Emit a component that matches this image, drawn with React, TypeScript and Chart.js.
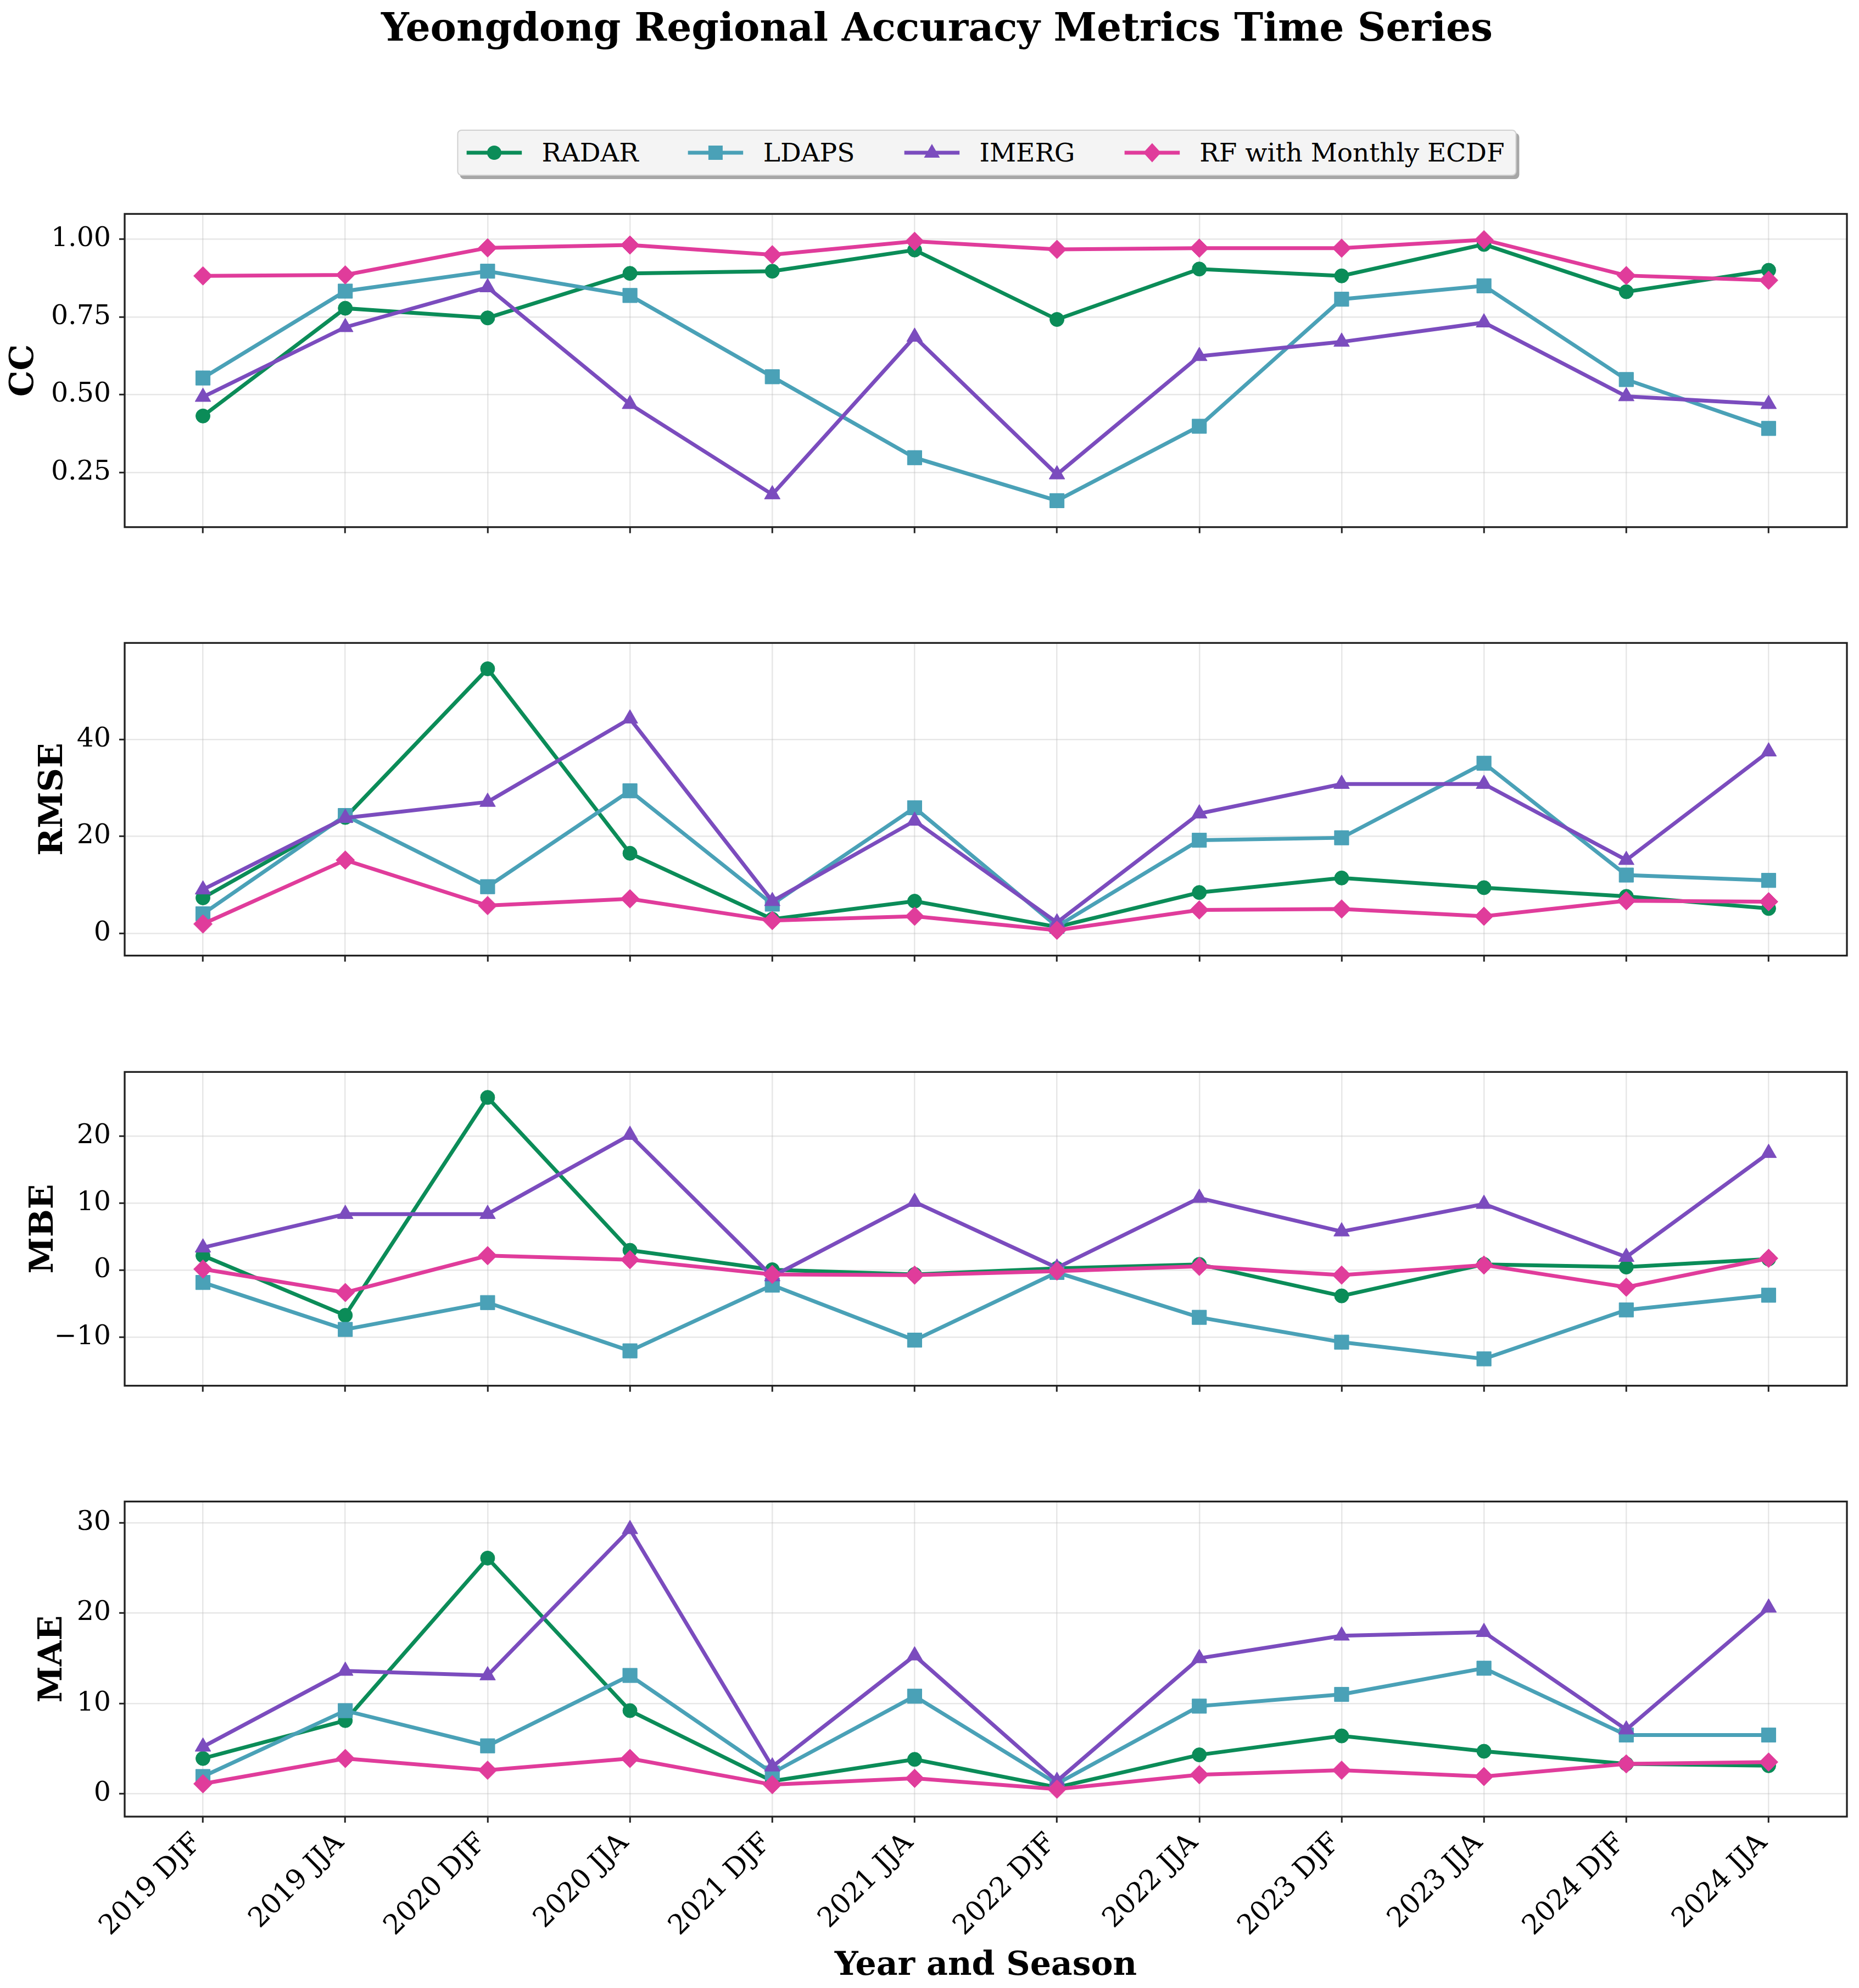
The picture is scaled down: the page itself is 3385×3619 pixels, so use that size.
import React, { useEffect, useRef } from 'react';
import { Chart, registerables } from 'chart.js';

Chart.register(...registerables);

// ---------- data ----------
const seasons = ['2019 DJF', '2019 JJA', '2020 DJF', '2020 JJA', '2021 DJF', '2021 JJA', '2022 DJF', '2022 JJA', '2023 DJF', '2023 JJA', '2024 DJF', '2024 JJA'];
const seriesNames = ['RADAR', 'LDAPS', 'IMERG', 'RF with Monthly ECDF'];

const radarCC = [0.432, 0.778, 0.747, 0.890, 0.897, 0.965, 0.742, 0.904, 0.882, 0.983, 0.831, 0.900];
const ldapsCC = [0.554, 0.833, 0.897, 0.819, 0.558, 0.298, 0.160, 0.399, 0.807, 0.850, 0.549, 0.392];
const imergCC = [0.493, 0.717, 0.845, 0.470, 0.180, 0.686, 0.244, 0.624, 0.670, 0.732, 0.495, 0.470];
const rfCC = [0.882, 0.885, 0.972, 0.981, 0.950, 0.993, 0.967, 0.971, 0.971, 0.998, 0.883, 0.868];

const radarRMSE = [7.3, 23.9, 54.6, 16.5, 2.9, 6.6, 1.3, 8.4, 11.4, 9.4, 7.6, 5.1];
const ldapsRMSE = [4.0, 24.3, 9.6, 29.4, 6.0, 25.9, 1.4, 19.2, 19.7, 35.1, 12.0, 10.9];
const imergRMSE = [9.0, 23.8, 27.1, 44.3, 6.6, 23.2, 2.2, 24.7, 30.8, 30.8, 15.1, 37.5];
const rfRMSE = [1.9, 15.1, 5.7, 7.1, 2.6, 3.5, 0.6, 4.8, 5.0, 3.5, 6.7, 6.5];

const radarMBE = [2.2, -6.7, 25.8, 3.0, 0.1, -0.6, 0.3, 0.9, -3.8, 0.9, 0.5, 1.7];
const ldapsMBE = [-1.8, -8.8, -4.8, -12.0, -2.2, -10.4, -0.3, -7.0, -10.7, -13.2, -5.9, -3.7];
const imergMBE = [3.4, 8.4, 8.4, 20.2, -0.9, 10.2, 0.4, 10.8, 5.8, 9.9, 2.0, 17.5];
const rfMBE = [0.2, -3.3, 2.2, 1.6, -0.6, -0.7, -0.1, 0.6, -0.7, 0.8, -2.5, 1.8];

const radarMAE = [3.9, 8.1, 26.1, 9.2, 1.4, 3.8, 0.7, 4.3, 6.4, 4.7, 3.3, 3.1];
const ldapsMAE = [1.9, 9.2, 5.3, 13.1, 2.3, 10.8, 1.1, 9.7, 11.0, 13.9, 6.5, 6.5];
const imergMAE = [5.2, 13.6, 13.1, 29.3, 3.0, 15.3, 1.4, 15.0, 17.5, 17.9, 7.1, 20.6];
const rfMAE = [1.1, 3.9, 2.6, 3.9, 1.0, 1.7, 0.5, 2.1, 2.6, 1.9, 3.3, 3.5];

const ccTicks = [0.25, 0.5, 0.75, 1.0];
const rmseTicks = [0, 20, 40];
const mbeTicks = [-10, 0, 10, 20];
const maeTicks = [0, 10, 20, 30];

// ---------- styles ----------
const colors = ['#0b8c58', '#4aa1b7', '#7b4cbe', '#e03c9b'];
const pointStyles = ['circle', 'rect', 'triangle', 'rectRot'];
const pointRadii = [13, 18.5, 16.5, 17];
const FONT = "'DejaVu Serif', serif";
const W = 3385;
const PAD_TOP = 40;
const PLOT_LEFT = 227;
const PLOT_RIGHT = 3363;
const LINE_W = 7;

type Panel = {
  label: string;
  series: number[][];
  ticks: number[];
  min: number;
  max: number;
  top: number;
  bottom: number;
  labelPad: number;
  fmt: (v: number) => string;
  isBottom: boolean;
};

const fmtInt = (v: number) => (v < 0 ? '\u2212' + Math.abs(v) : String(v));

const panels: Panel[] = [
  { label: 'CC', series: [radarCC, ldapsCC, imergCC, rfCC], ticks: ccTicks, min: 0.075, max: 1.081, top: 385, bottom: 964, labelPad: 8, fmt: (v) => v.toFixed(2), isBottom: false },
  { label: 'RMSE', series: [radarRMSE, ldapsRMSE, imergRMSE, rfRMSE], ticks: rmseTicks, min: -4.63, max: 59.94, top: 1166, bottom: 1744, labelPad: 61, fmt: fmtInt, isBottom: false },
  { label: 'MBE', series: [radarMBE, ldapsMBE, imergMBE, rfMBE], ticks: mbeTicks, min: -17.2, max: 29.6, top: 1947, bottom: 2527, labelPad: 44, fmt: fmtInt, isBottom: false },
  { label: 'MAE', series: [radarMAE, ldapsMAE, imergMAE, rfMAE], ticks: maeTicks, min: -2.54, max: 32.37, top: 2729, bottom: 3307, labelPad: 60, fmt: fmtInt, isBottom: true },
];

const framePlugin = {
  id: 'frame',
  afterDraw(chart: any) {
    const { ctx, chartArea } = chart;
    ctx.save();
    ctx.strokeStyle = '#222222';
    ctx.lineWidth = 3.3;
    ctx.strokeRect(chartArea.left, chartArea.top, chartArea.right - chartArea.left, chartArea.bottom - chartArea.top);
    ctx.restore();
  },
};

function PanelChart({ panel }: { panel: Panel }) {
  const ref = useRef<HTMLCanvasElement | null>(null);
  const xH = panel.isBottom ? 3619 - panel.bottom : 40;
  const canvasTop = panel.top - PAD_TOP;
  const canvasH = PAD_TOP + (panel.bottom - panel.top) + xH;

  useEffect(() => {
    if (!ref.current) return;
    const datasets = panel.series.map((vals, si) => ({
      label: seriesNames[si],
      data: vals.map((v, i) => ({ x: i, y: v })),
      borderColor: colors[si],
      backgroundColor: colors[si],
      pointBackgroundColor: colors[si],
      pointBorderColor: colors[si],
      pointBorderWidth: 1,
      pointStyle: pointStyles[si],
      pointRadius: pointRadii[si],
      borderWidth: LINE_W,
      tension: 0,
      order: 4 - si,
    }));
    const chart = new Chart(ref.current, {
      type: 'line',
      data: { datasets },
      plugins: [framePlugin],
      options: {
        animation: false,
        responsive: false,
        devicePixelRatio: 1,
        layout: { padding: { top: PAD_TOP, right: W - PLOT_RIGHT, left: 0, bottom: 0 } },
        plugins: { legend: { display: false }, tooltip: { enabled: false }, title: { display: false } },
        scales: {
          x: {
            type: 'linear',
            min: -0.55,
            max: 11.55,
            afterBuildTicks: (axis: any) => {
              axis.ticks = seasons.map((_, i) => ({ value: i }));
            },
            afterFit: (scale: any) => {
              scale.height = xH;
            },
            ticks: {
              display: panel.isBottom,
              autoSkip: false,
              minRotation: 45,
              maxRotation: 45,
              padding: 8,
              labelOffset: -10,
              color: '#000',
              font: { family: FONT, size: 50 },
              callback: (v: any) => seasons[v] ?? '',
            },
            grid: {
              color: 'rgba(176,176,176,0.3)',
              lineWidth: 2.5,
              drawTicks: true,
              tickLength: 11,
              tickColor: '#222222',
              tickWidth: 3,
            },
            border: { display: false },
            title: {
              display: panel.isBottom,
              text: 'Year and Season',
              color: '#000',
              font: { family: FONT, size: 60, weight: 'bold' },
              padding: { top: 0, bottom: 4 },
            },
          },
          y: {
            type: 'linear',
            min: panel.min,
            max: panel.max,
            afterBuildTicks: (axis: any) => {
              axis.ticks = panel.ticks.map((v) => ({ value: v }));
            },
            afterFit: (scale: any) => {
              scale.width = PLOT_LEFT;
            },
            ticks: {
              padding: 15,
              color: '#000',
              font: { family: FONT, size: 49 },
              callback: (v: any) => panel.fmt(Number(v)),
            },
            grid: {
              color: 'rgba(176,176,176,0.3)',
              lineWidth: 2.5,
              drawTicks: true,
              tickLength: 10,
              tickColor: '#222222',
              tickWidth: 3,
            },
            border: { display: false },
            title: {
              display: true,
              text: panel.label,
              color: '#000',
              font: { family: FONT, size: 60, weight: 'bold' },
              padding: { top: panel.labelPad, bottom: 0 },
            },
          },
        },
      } as any,
    });
    return () => chart.destroy();
  }, []);

  return (
    <canvas
      ref={ref}
      width={W}
      height={canvasH}
      style={{ position: 'absolute', left: 0, top: canvasTop, width: W, height: canvasH }}
    />
  );
}

function LegendMarker({ index }: { index: number }) {
  const c = colors[index];
  const cx = 50.5;
  const cy = 20;
  let shape: React.ReactNode = null;
  if (index === 0) shape = <circle cx={cx} cy={cy} r={13} fill={c} />;
  if (index === 1) shape = <rect x={cx - 13} y={cy - 13} width={26} height={26} fill={c} />;
  if (index === 2) shape = <polygon points={`${cx},${cy - 16} ${cx - 14.5},${cy + 9} ${cx + 14.5},${cy + 9}`} fill={c} />;
  if (index === 3) shape = <polygon points={`${cx},${cy - 17.5} ${cx + 16},${cy} ${cx},${cy + 17.5} ${cx - 16},${cy}`} fill={c} />;
  return (
    <svg width={101} height={40} style={{ display: 'block', flex: 'none' }}>
      <line x1={0} y1={cy} x2={101} y2={cy} stroke={c} strokeWidth={LINE_W} />
      {shape}
    </svg>
  );
}

export default function App() {
  return (
    <div style={{ position: 'absolute', left: 0, top: 0, width: W, height: 3619, background: '#fff', overflow: 'hidden' }}>
      <div
        style={{
          position: 'absolute',
          left: 1706,
          top: 14,
          transform: 'translateX(-50%)',
          whiteSpace: 'nowrap',
          fontFamily: FONT,
          fontWeight: 'bold',
          fontSize: 71,
          lineHeight: '70px',
          color: '#000',
        }}
      >
        Yeongdong Regional Accuracy Metrics Time Series
      </div>
      <div
        style={{
          position: 'absolute',
          left: 1797,
          top: 236,
          transform: 'translateX(-50%)',
          height: 84,
          boxSizing: 'border-box',
          display: 'flex',
          alignItems: 'center',
          padding: '0 20px 0 15px',
          background: '#f4f4f4',
          border: '2px solid #d0d0d0',
          borderRadius: 8,
          boxShadow: '5px 6px 0 rgba(0,0,0,0.35)',
          whiteSpace: 'nowrap',
        }}
      >
        {seriesNames.map((name, i) => (
          <div key={name} style={{ display: 'flex', alignItems: 'center', marginLeft: i === 0 ? 0 : 90 }}>
            <LegendMarker index={i} />
            <span style={{ marginLeft: 36, fontFamily: FONT, fontSize: 47, lineHeight: '48px', color: '#000' }}>{name}</span>
          </div>
        ))}
      </div>
      {panels.map((p) => (
        <PanelChart key={p.label} panel={p} />
      ))}
    </div>
  );
}
